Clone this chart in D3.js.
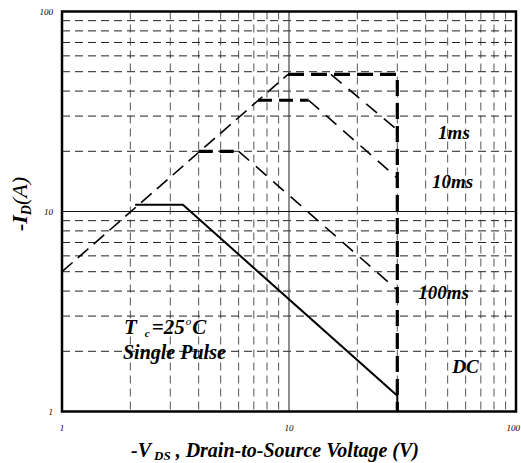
<!DOCTYPE html>
<html><head><meta charset="utf-8">
<script src="https://cdn.jsdelivr.net/npm/d3@7"></script>
<style>
html,body{margin:0;padding:0;background:#fff;}
svg{display:block;}
text{font-family:"Liberation Serif","Times New Roman",serif;}
</style></head>
<body>
<script>
// ---- data ----
const xDomain = [1, 100];
const yDomain = [1, 100];
const xTickLabels = [1, 10, 100];
const yTickLabels = [1, 10, 100];
const minorMultipliers = [2, 3, 4, 5, 6, 7, 8, 9];
// R_DS(on) limit (dashed)
const rdsLimit = [[1, 5], [9.9, 48.5]];
// Thick dashed package/current limits
const currentLimitTop = [[9.9, 48.5], [30, 48.5], [30, 1]];
const flat10ms = [[7.3, 36], [12.2, 36]];
const flat100ms = [[4, 20], [6, 20]];
// Pulse diagonals (thin dashed)
const diag1ms = [[15.3, 48.5], [30, 25.6]];
const diag10ms = [[12.2, 36], [30, 14.7]];
const diag100ms = [[6, 20], [30, 4.05]];
// DC (solid)
const dcCurve = [[2.1, 10.8], [3.41, 10.8], [30, 1.2], [30, 1]];
const curveLabels = [
  {text: "1ms", x: 53.3, y: 24.7},
  {text: "10ms", x: 52.5, y: 14.0},
  {text: "100ms", x: 48, y: 3.91},
  {text: "DC", x: 59.9, y: 1.67}
];

const W = 521, H = 463;
const m = {left: 62, right: 516, top: 11.5, bottom: 411.5};

const svg = d3.select("body").append("svg").attr("width", W).attr("height", H);

const x = d3.scaleLog().domain(xDomain).range([m.left, m.right]);
const y = d3.scaleLog().domain(yDomain).range([m.bottom, m.top]);

// grid
const g = svg.append("g");
const minorVals = [];
[1, 10].forEach(d => minorMultipliers.forEach(k => minorVals.push(d * k)));
g.selectAll("line.vx").data(minorVals).enter().append("line")
  .attr("x1", d => x(d)).attr("x2", d => x(d)).attr("y1", m.top).attr("y2", m.bottom)
  .attr("stroke", "#555").attr("stroke-width", 1).attr("stroke-dasharray", "8,5");
g.selectAll("line.hy").data(minorVals).enter().append("line")
  .attr("y1", d => y(d)).attr("y2", d => y(d)).attr("x1", m.left).attr("x2", m.right)
  .attr("stroke", "#222").attr("stroke-width", 1).attr("stroke-dasharray", "8,5");
// major 10 lines
g.append("line").attr("x1", x(10)).attr("x2", x(10)).attr("y1", m.top).attr("y2", m.bottom)
  .attr("stroke", "#444").attr("stroke-width", 1.2);
g.append("line").attr("y1", y(10)).attr("y2", y(10)).attr("x1", m.left).attr("x2", m.right)
  .attr("stroke", "#111").attr("stroke-width", 1.2);

const line = d3.line().x(d => x(d[0])).y(d => y(d[1]));

function draw(data, w, dash) {
  svg.append("path").attr("d", line(data)).attr("fill", "none")
    .attr("stroke", "#000").attr("stroke-width", w)
    .attr("stroke-dasharray", dash || null);
}
draw(rdsLimit, 1.6, "14,7");
draw(diag1ms, 1.6, "14,9");
draw(diag10ms, 1.6, "14,9");
draw(diag100ms, 1.6, "14,9");
draw(currentLimitTop, 3.2, "16,7");
draw(flat10ms, 3.2, "14,7");
draw(flat100ms, 3.2, "14,7");
draw(dcCurve, 2, null);

// border
svg.append("rect").attr("x", m.left).attr("y", m.top)
  .attr("width", m.right - m.left).attr("height", m.bottom - m.top)
  .attr("fill", "none").attr("stroke", "#000").attr("stroke-width", 2.5);

// tick labels
svg.selectAll("text.yt").data(yTickLabels).enter().append("text")
  .attr("x", 53).attr("y", d => y(d) + 3).attr("text-anchor", "end")
  .attr("font-size", 9).attr("font-style", "italic").text(d => d);
svg.selectAll("text.xt").data(xTickLabels).enter().append("text")
  .attr("x", (d, i) => i === xTickLabels.length - 1 ? 520 : x(d)).attr("y", 431)
  .attr("text-anchor", (d, i) => i === xTickLabels.length - 1 ? "end" : "middle")
  .attr("font-size", 9).attr("font-style", "italic").text(d => d);

// curve labels
svg.selectAll("text.cl").data(curveLabels).enter().append("text")
  .attr("x", d => x(d.x)).attr("y", d => y(d.y) + 6).attr("text-anchor", "middle")
  .attr("font-size", 19).attr("font-weight", "bold").attr("font-style", "italic")
  .text(d => d.text);

// annotation
const t1 = svg.append("text").attr("x", 124).attr("y", 334)
  .attr("font-size", 21).attr("font-weight", "bold").attr("font-style", "italic");
t1.append("tspan").text("T");
t1.append("tspan").attr("font-size", 11).attr("dy", 3).attr("dx", 8).text("c");
t1.append("tspan").attr("dy", -3).attr("dx", 2).text("=25");
t1.append("tspan").attr("font-size", 11).attr("dy", -9).attr("dx", 1).attr("font-weight", "normal").text("o");
t1.append("tspan").attr("dy", 9).attr("dx", 1).text("C");
svg.append("text").attr("x", 123).attr("y", 359)
  .attr("font-size", 20).attr("font-weight", "bold").attr("font-style", "italic")
  .text("Single Pulse");

// x title
const xt = svg.append("text").attr("x", 275).attr("y", 457).attr("text-anchor", "middle")
  .attr("font-size", 20).attr("font-weight", "bold").attr("font-style", "italic");
xt.append("tspan").text("-V");
xt.append("tspan").attr("font-size", 13).attr("dy", 3).attr("dx", 3).text("DS");
xt.append("tspan").attr("dy", -3).text(" , Drain-to-Source Voltage (V)");

// y title
const yt = svg.append("text").attr("transform", "translate(27,204) rotate(-90)")
  .attr("text-anchor", "middle").attr("font-size", 22).attr("font-style", "italic");
yt.append("tspan").attr("font-weight", "bold").text("-I");
yt.append("tspan").attr("font-weight", "bold").attr("font-size", 14).attr("dy", 4).text("D");
yt.append("tspan").attr("dy", -4).text("(A)");
</script>
</body></html>
